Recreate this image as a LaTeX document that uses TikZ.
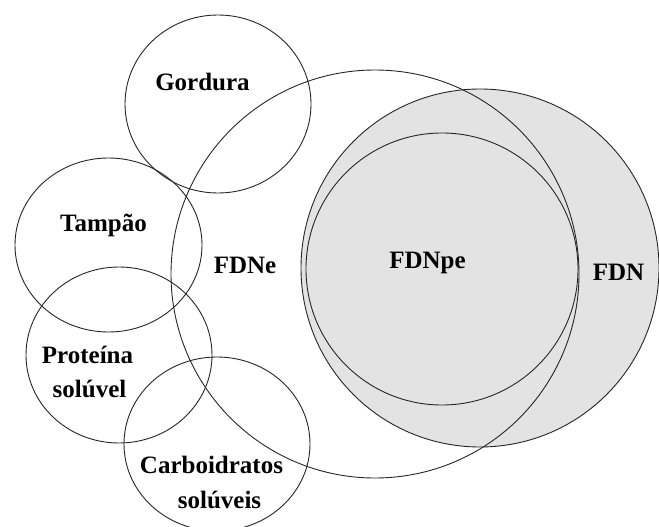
\documentclass[tikz,border=0pt]{standalone}
\usepackage{fontspec}
\setmainfont{Liberation Serif}
\begin{document}
\begin{tikzpicture}[x=1pt,y=-1pt,
  ring/.style={draw=black!85,line width=0.9pt},
  lbl/.style={anchor=base,inner sep=0pt,font=\fontsize{25}{30}\selectfont\bfseries}]
\useasboundingbox (0,0) rectangle (659,527);
% shaded FDN
\fill[black!11] (480,268) circle [radius=179];
\draw[ring] (480,268) circle [radius=179];
% FDNpe
\draw[ring] (442,269) circle [radius=136];
% FDNe
\draw[ring] (375,274) circle [radius=204];
% small circles
\draw[ring] (218,104) ellipse [x radius=93,y radius=89];
\draw[ring] (108.5,245) ellipse [x radius=93.5,y radius=87];
\draw[ring] (119,355) ellipse [x radius=93,y radius=88];
\draw[ring] (217,444) ellipse [x radius=93,y radius=87];
% labels
\node[lbl] (gord) at (202.5,91) {Gordura};
\node[lbl] (tamp) at (103.5,231) {Tampão};
\node[lbl] (fdne) at (245,273) {FDNe};
\node[lbl] (fdnpe) at (427.5,268) {FDNpe};
\node[lbl] (fdn) at (618.5,280) {FDN};
\node[lbl] (prota) at (87.5,363) {Proteína};
\node[lbl] (protb) at (89.5,397) {solúvel};
\node[lbl] (carba) at (211.5,473) {Carboidratos};
\node[lbl] (carbb) at (219.5,508) {solúveis};
\end{tikzpicture}
\end{document}
